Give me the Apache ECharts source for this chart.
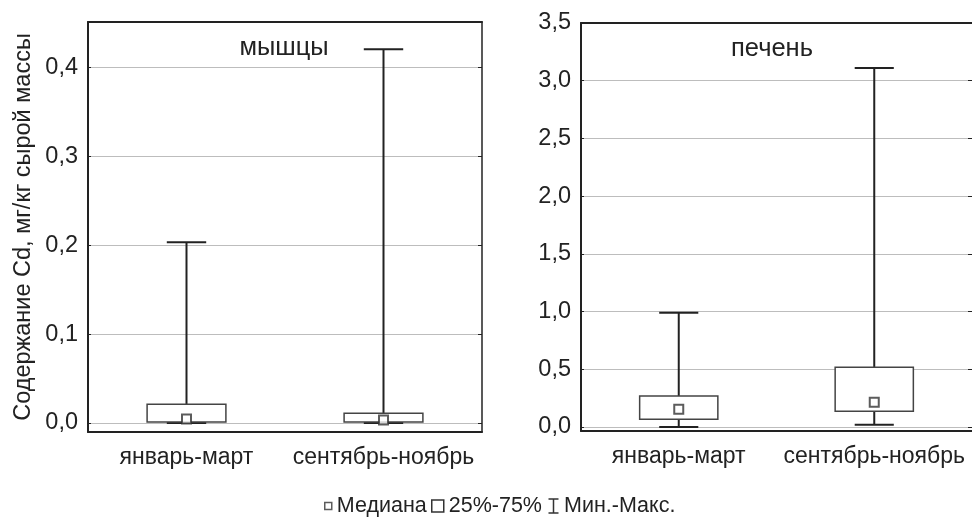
<!DOCTYPE html>
<html>
<head>
<meta charset="utf-8">
<script src="https://cdn.jsdelivr.net/npm/echarts@6/dist/echarts.min.js"></script>
<style>
  html, body { margin: 0; padding: 0; background: #fff; }
  #chart { width: 972px; height: 525px; }
</style>
</head>
<body>
<div id="chart"></div>
<script>
// categories
var categories = ['январь-март', 'сентябрь-ноябрь'];

// мышцы
var muscleMin = [0.000, 0.000];
var muscleQ1 = [0.001, 0.001];
var muscleMedian = [0.0045, 0.0035];
var muscleQ3 = [0.021, 0.011];
var muscleMax = [0.203, 0.420];

// печень
var liverMin = [0.00, 0.02];
var liverQ1 = [0.067, 0.136];
var liverMedian = [0.153, 0.214];
var liverQ3 = [0.269, 0.517];
var liverMax = [0.99, 3.11];

var FONT = "'Liberation Sans', Arial, sans-serif";
var DARK = '#222';

function tickLabel(v) {
  var r = Math.round(v * 10) / 10;
  return Math.abs(v - r) < 1e-6 ? r.toFixed(1).replace('.', ',') : '';
}

function renderWhisker(params, api) {
  var x = api.value(0);
  var lo = api.coord([x, api.value(1)]);
  var hi = api.coord([x, api.value(2)]);
  var half = api.size([1, 0])[0] * 0.1;
  var style = { stroke: DARK, lineWidth: 2, fill: null };
  return {
    type: 'group',
    children: [
      { type: 'line', shape: { x1: lo[0], y1: lo[1], x2: hi[0], y2: hi[1] }, style: style },
      { type: 'line', shape: { x1: lo[0] - half, y1: lo[1], x2: lo[0] + half, y2: lo[1] }, style: style },
      { type: 'line', shape: { x1: hi[0] - half, y1: hi[1], x2: hi[0] + half, y2: hi[1] }, style: style }
    ]
  };
}

function renderBox(params, api) {
  var x = api.value(0);
  var lo = api.coord([x, api.value(1)]);
  var hi = api.coord([x, api.value(2)]);
  var half = api.size([1, 0])[0] * 0.2;
  return {
    type: 'rect',
    shape: { x: lo[0] - half, y: hi[1], width: half * 2, height: lo[1] - hi[1] },
    style: { fill: '#fff', stroke: '#444', lineWidth: 1.5 }
  };
}

function pairs(a, b) {
  return a.map(function (v, i) { return [i, v, b[i]]; });
}
function points(a) {
  return a.map(function (v, i) { return [i, v]; });
}

function bottomAxis(gridIndex) {
  return {
    type: 'category', gridIndex: gridIndex, data: categories, position: 'bottom',
    axisLine: { onZero: false, lineStyle: { color: DARK, width: 2 } },
    axisTick: { alignWithLabel: true, length: 4, lineStyle: { color: DARK } },
    axisLabel: { interval: 0, color: DARK, fontSize: 23, fontFamily: FONT, margin: 14 }
  };
}
function topAxis(gridIndex) {
  return {
    type: 'category', gridIndex: gridIndex, data: categories, position: 'top',
    axisLine: { onZero: false, lineStyle: { color: DARK, width: 2 } },
    axisTick: { alignWithLabel: true, inside: true, length: 4, lineStyle: { color: DARK } },
    axisLabel: { show: false }
  };
}
function leftAxis(gridIndex, min, max, split, name) {
  return {
    type: 'value', gridIndex: gridIndex, min: min, max: max, splitNumber: split, position: 'left',
    name: name, nameLocation: 'middle', nameGap: 52,
    nameTextStyle: { color: DARK, fontSize: 23.5, fontFamily: FONT },
    axisLine: { show: true, onZero: false, lineStyle: { color: DARK, width: 2 } },
    axisTick: { show: true, inside: true, length: 3, lineStyle: { color: DARK } },
    axisLabel: { color: DARK, fontSize: 23.5, fontFamily: FONT, margin: 10, formatter: tickLabel },
    splitLine: { show: true, lineStyle: { color: '#bdbdbd', width: 1 } }
  };
}
function rightAxis(gridIndex, min, max, split, showLine) {
  return {
    type: 'value', gridIndex: gridIndex, min: min, max: max, splitNumber: split, position: 'right',
    axisLine: { show: showLine, onZero: false, lineStyle: { color: DARK, width: 1.5 } },
    axisTick: { show: true, inside: true, length: 4, lineStyle: { color: DARK } },
    axisLabel: { show: false },
    splitLine: { show: false }
  };
}

var chart = echarts.init(document.getElementById('chart'));

var titleStyle = { color: DARK, fontSize: 25.5, fontWeight: 'normal', fontFamily: FONT };
var legendText = { color: DARK, fontSize: 21.5, fontFamily: FONT };
var hollow = { color: '#fff', borderColor: '#333', borderWidth: 1.5 };

var option = {
  backgroundColor: '#fff',
  animation: false,
  title: [
    { text: 'мышцы', left: 284, top: 35, textAlign: 'center', padding: 0, textStyle: titleStyle },
    { text: 'печень', left: 772, top: 36, textAlign: 'center', padding: 0, textStyle: titleStyle }
  ],
  legend: [
    { data: [{ name: 'Медиана', icon: 'rect', itemStyle: hollow }],
      left: 324, top: 495, padding: 0, itemWidth: 7, itemHeight: 7, selectedMode: false,
      textStyle: legendText },
    { data: [{ name: '25%-75%', icon: 'rect', itemStyle: hollow }],
      left: 431, top: 495, padding: 0, itemWidth: 12, itemHeight: 12, selectedMode: false,
      textStyle: legendText },
    { data: [{ name: 'Мин.-Макс.', icon: 'path://M0,0L10,0M5,0L5,14M0,14L10,14',
        itemStyle: { color: 'none', borderColor: '#333', borderWidth: 1.5 } }],
      left: 546, top: 495, padding: 0, itemWidth: 11, itemHeight: 14, selectedMode: false,
      textStyle: legendText }
  ],
  grid: [
    { left: 88, top: 22, width: 394, height: 410 },
    { left: 581, top: 23, width: 394, height: 408 }
  ],
  xAxis: [bottomAxis(0), topAxis(0), bottomAxis(1), topAxis(1)],
  yAxis: [
    leftAxis(0, -0.0101, 0.4506, 5, 'Содержание Cd, мг/кг сырой массы'),
    rightAxis(0, -0.0101, 0.4506, 5, true),
    leftAxis(1, -0.035, 3.5, 7, ''),
    rightAxis(1, -0.035, 3.5, 7, false)
  ],
  series: [
    { name: 'Мин.-Макс.', type: 'custom', xAxisIndex: 0, yAxisIndex: 0,
      renderItem: renderWhisker, data: pairs(muscleMin, muscleMax) },
    { name: '25%-75%', type: 'custom', xAxisIndex: 0, yAxisIndex: 0,
      renderItem: renderBox, data: pairs(muscleQ1, muscleQ3) },
    { name: 'Медиана', type: 'scatter', xAxisIndex: 0, yAxisIndex: 0,
      symbol: 'rect', symbolSize: 9,
      itemStyle: { color: '#fff', borderColor: '#333', borderWidth: 2 },
      data: points(muscleMedian) },
    { name: 'Мин.-Макс.', type: 'custom', xAxisIndex: 2, yAxisIndex: 2,
      renderItem: renderWhisker, data: pairs(liverMin, liverMax) },
    { name: '25%-75%', type: 'custom', xAxisIndex: 2, yAxisIndex: 2,
      renderItem: renderBox, data: pairs(liverQ1, liverQ3) },
    { name: 'Медиана', type: 'scatter', xAxisIndex: 2, yAxisIndex: 2,
      symbol: 'rect', symbolSize: 9,
      itemStyle: { color: '#fff', borderColor: '#333', borderWidth: 2 },
      data: points(liverMedian) }
  ]
};

chart.setOption(option);
</script>
</body>
</html>
